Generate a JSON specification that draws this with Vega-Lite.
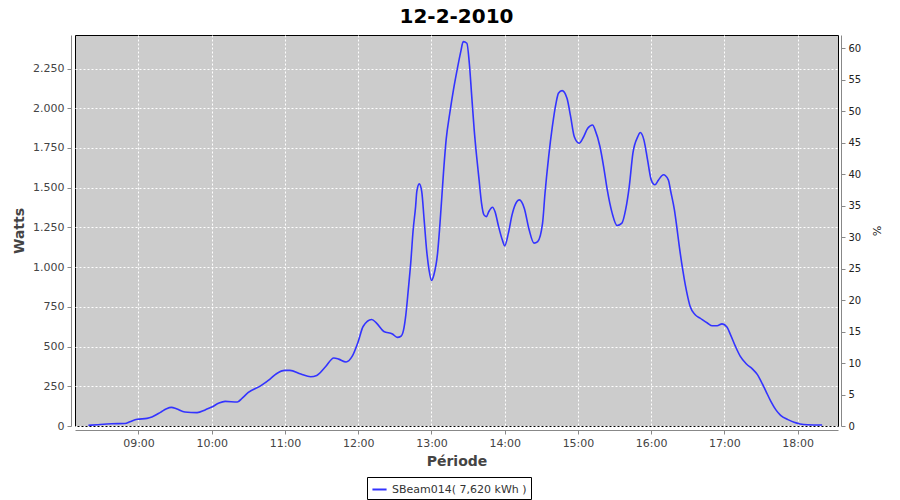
{
  "$schema": "https://vega.github.io/schema/vega-lite/v6.json",
  "autosize": {"type": "none"},
  "padding": {"left": 75, "top": 35, "right": 62, "bottom": 74},
  "width": 763,
  "height": 391,
  "background": "white",
  "title": {"text": "12-2-2010", "fontSize": 20, "font": "DejaVu Sans", "fontWeight": "bold", "color": "black", "anchor": "middle", "offset": 8},
  "config": {
    "locale": {"number": {"decimal": ",", "thousands": ".", "grouping": [3], "currency": ["", " €"]}},
    "view": {"fill": "#cccccc", "stroke": "black", "strokeWidth": 1},
    "axis": {
      "domainColor": "#888888", "tickColor": "#888888", "labelColor": "#444444",
      "labelFont": "DejaVu Sans", "labelFontSize": 11, "titleFont": "DejaVu Sans",
      "titleColor": "#444444", "gridColor": "white", "gridDash": [2, 2], "gridOpacity": 1, "gridWidth": 1,
      "tickSize": 4, "labelPadding": 3
    },
    "legend": {"labelFont": "DejaVu Sans", "labelFontSize": 11, "labelColor": "#333333"}
  },
  "layer": [
    {
      "data": {"values": [
        {"t":"2010-02-12T08:19","w":4},{"t":"2010-02-12T08:26","w":8},{"t":"2010-02-12T08:38","w":14},{"t":"2010-02-12T08:49","w":16},
        {"t":"2010-02-12T08:53","w":27},{"t":"2010-02-12T08:59","w":42},{"t":"2010-02-12T09:07","w":48},{"t":"2010-02-12T09:11","w":57},
        {"t":"2010-02-12T09:18","w":86},{"t":"2010-02-12T09:23","w":109},{"t":"2010-02-12T09:27","w":117},{"t":"2010-02-12T09:31","w":109},
        {"t":"2010-02-12T09:38","w":88},{"t":"2010-02-12T09:48","w":84},{"t":"2010-02-12T09:55","w":103},{"t":"2010-02-12T10:00","w":119},
        {"t":"2010-02-12T10:06","w":145},{"t":"2010-02-12T10:11","w":155},{"t":"2010-02-12T10:21","w":151},{"t":"2010-02-12T10:25","w":176},
        {"t":"2010-02-12T10:30","w":211},{"t":"2010-02-12T10:40","w":253},{"t":"2010-02-12T10:48","w":297},{"t":"2010-02-12T10:53","w":329},
        {"t":"2010-02-12T11:00","w":350},{"t":"2010-02-12T11:04","w":350},{"t":"2010-02-12T11:13","w":327},{"t":"2010-02-12T11:21","w":310},
        {"t":"2010-02-12T11:26","w":318},{"t":"2010-02-12T11:33","w":371},{"t":"2010-02-12T11:40","w":428},{"t":"2010-02-12T11:44","w":421},
        {"t":"2010-02-12T11:50","w":403},{"t":"2010-02-12T11:55","w":438},{"t":"2010-02-12T12:00","w":532},{"t":"2010-02-12T12:04","w":626},
        {"t":"2010-02-12T12:11","w":670},{"t":"2010-02-12T12:15","w":648},{"t":"2010-02-12T12:21","w":595},{"t":"2010-02-12T12:28","w":579},
        {"t":"2010-02-12T12:32","w":558},{"t":"2010-02-12T12:35","w":565},{"t":"2010-02-12T12:37","w":600},{"t":"2010-02-12T12:39","w":700},
        {"t":"2010-02-12T12:41","w":857},{"t":"2010-02-12T12:43","w":1025},{"t":"2010-02-12T12:45","w":1235},{"t":"2010-02-12T12:47","w":1381},
        {"t":"2010-02-12T12:48","w":1476},{"t":"2010-02-12T12:50","w":1524},{"t":"2010-02-12T12:52","w":1476},{"t":"2010-02-12T12:54","w":1297},
        {"t":"2010-02-12T12:56","w":1109},{"t":"2010-02-12T12:58","w":983},{"t":"2010-02-12T13:00","w":916},{"t":"2010-02-12T13:02","w":952},
        {"t":"2010-02-12T13:05","w":1088},{"t":"2010-02-12T13:07","w":1277},{"t":"2010-02-12T13:10","w":1612},{"t":"2010-02-12T13:12","w":1801},
        {"t":"2010-02-12T13:15","w":1969},{"t":"2010-02-12T13:18","w":2115},{"t":"2010-02-12T13:21","w":2241},{"t":"2010-02-12T13:24","w":2356},
        {"t":"2010-02-12T13:26","w":2419},{"t":"2010-02-12T13:29","w":2409},{"t":"2010-02-12T13:31","w":2283},{"t":"2010-02-12T13:33","w":2073},
        {"t":"2010-02-12T13:35","w":1864},{"t":"2010-02-12T13:37","w":1696},{"t":"2010-02-12T13:39","w":1549},{"t":"2010-02-12T13:41","w":1403},
        {"t":"2010-02-12T13:43","w":1329},{"t":"2010-02-12T13:45","w":1318},{"t":"2010-02-12T13:47","w":1350},{"t":"2010-02-12T13:50","w":1377},
        {"t":"2010-02-12T13:52","w":1350},{"t":"2010-02-12T13:55","w":1255},{"t":"2010-02-12T13:58","w":1172},{"t":"2010-02-12T14:00","w":1134},
        {"t":"2010-02-12T14:03","w":1214},{"t":"2010-02-12T14:06","w":1329},{"t":"2010-02-12T14:10","w":1413},{"t":"2010-02-12T14:12","w":1423},
        {"t":"2010-02-12T14:16","w":1371},{"t":"2010-02-12T14:20","w":1235},{"t":"2010-02-12T14:24","w":1151},{"t":"2010-02-12T14:27","w":1161},
        {"t":"2010-02-12T14:31","w":1277},{"t":"2010-02-12T14:33","w":1465},{"t":"2010-02-12T14:36","w":1696},{"t":"2010-02-12T14:39","w":1884},
        {"t":"2010-02-12T14:42","w":2031},{"t":"2010-02-12T14:44","w":2094},{"t":"2010-02-12T14:47","w":2111},{"t":"2010-02-12T14:51","w":2063},
        {"t":"2010-02-12T14:54","w":1947},{"t":"2010-02-12T14:57","w":1821},{"t":"2010-02-12T15:01","w":1780},{"t":"2010-02-12T15:04","w":1811},
        {"t":"2010-02-12T15:08","w":1874},{"t":"2010-02-12T15:12","w":1895},{"t":"2010-02-12T15:14","w":1864},{"t":"2010-02-12T15:18","w":1759},
        {"t":"2010-02-12T15:21","w":1633},{"t":"2010-02-12T15:24","w":1486},{"t":"2010-02-12T15:28","w":1340},{"t":"2010-02-12T15:32","w":1262},
        {"t":"2010-02-12T15:36","w":1277},{"t":"2010-02-12T15:39","w":1360},{"t":"2010-02-12T15:42","w":1507},{"t":"2010-02-12T15:45","w":1717},
        {"t":"2010-02-12T15:49","w":1821},{"t":"2010-02-12T15:51","w":1847},{"t":"2010-02-12T15:54","w":1801},{"t":"2010-02-12T15:57","w":1675},
        {"t":"2010-02-12T16:00","w":1549},{"t":"2010-02-12T16:03","w":1518},{"t":"2010-02-12T16:06","w":1549},{"t":"2010-02-12T16:10","w":1581},
        {"t":"2010-02-12T16:14","w":1549},{"t":"2010-02-12T16:16","w":1476},{"t":"2010-02-12T16:19","w":1360},{"t":"2010-02-12T16:21","w":1250},
        {"t":"2010-02-12T16:23","w":1130},{"t":"2010-02-12T16:26","w":975},{"t":"2010-02-12T16:28","w":885},{"t":"2010-02-12T16:30","w":810},
        {"t":"2010-02-12T16:32","w":750},{"t":"2010-02-12T16:36","w":700},{"t":"2010-02-12T16:40","w":679},{"t":"2010-02-12T16:46","w":648},
        {"t":"2010-02-12T16:50","w":631},{"t":"2010-02-12T16:54","w":631},{"t":"2010-02-12T16:58","w":643},{"t":"2010-02-12T17:02","w":623},
        {"t":"2010-02-12T17:05","w":574},{"t":"2010-02-12T17:09","w":501},{"t":"2010-02-12T17:13","w":438},{"t":"2010-02-12T17:18","w":390},
        {"t":"2010-02-12T17:23","w":358},{"t":"2010-02-12T17:27","w":323},{"t":"2010-02-12T17:30","w":281},{"t":"2010-02-12T17:34","w":218},
        {"t":"2010-02-12T17:38","w":155},{"t":"2010-02-12T17:42","w":103},{"t":"2010-02-12T17:46","w":67},{"t":"2010-02-12T17:52","w":40},
        {"t":"2010-02-12T17:57","w":23},{"t":"2010-02-12T18:02","w":13},{"t":"2010-02-12T18:08","w":8},{"t":"2010-02-12T18:20","w":6}
      ]},
      "mark": {"type": "line", "strokeWidth": 1.6, "interpolate": "monotone"},
      "encoding": {
        "x": {
          "field": "t", "type": "temporal", "title": "Période",
          "scale": {"domain": [{"year": 2010, "month": 2, "date": 12, "hours": 8, "minutes": 8}, {"year": 2010, "month": 2, "date": 12, "hours": 18, "minutes": 33}], "nice": false},
          "axis": {"format": "%H:%M", "tickCount": "hour", "offset": 4, "titleFontSize": 14, "titleFontWeight": "bold", "titlePadding": 6, "labelFlush": false}
        },
        "y": {
          "field": "w", "type": "quantitative", "title": "Watts",
          "scale": {"domain": [0, 2461], "nice": false},
          "axis": {"values": [0, 250, 500, 750, 1000, 1250, 1500, 1750, 2000, 2250], "format": ",.0f", "offset": 4, "titleFontSize": 14, "titleFontWeight": "bold", "titlePadding": 6}
        },
        "color": {
          "datum": "SBeam014( 7,620 kWh )",
          "scale": {"range": ["#3333ff"]},
          "legend": {"title": null, "orient": "none", "legendX": 292, "legendY": 442, "symbolType": "stroke", "symbolStrokeWidth": 2, "symbolSize": 200, "strokeColor": "black", "fillColor": "white", "padding": 4, "labelFontSize": 11}
        }
      }
    },
    {
      "data": {"values": [{"p": 0}, {"p": 60}]},
      "mark": {"type": "point", "opacity": 0},
      "encoding": {
        "y": {
          "field": "p", "type": "quantitative", "title": "%",
          "scale": {"domain": [0, 62.1], "nice": false},
          "axis": {"orient": "right", "values": [0, 5, 10, 15, 20, 25, 30, 35, 40, 45, 50, 55, 60], "grid": false, "offset": 3, "labelColor": "#222222", "titleFontSize": 11, "titleFontWeight": "normal", "titleColor": "#222222", "titlePadding": 10, "labelFontSize": 10}
        }
      }
    }
  ],
  "resolve": {"scale": {"y": "independent"}}
}
